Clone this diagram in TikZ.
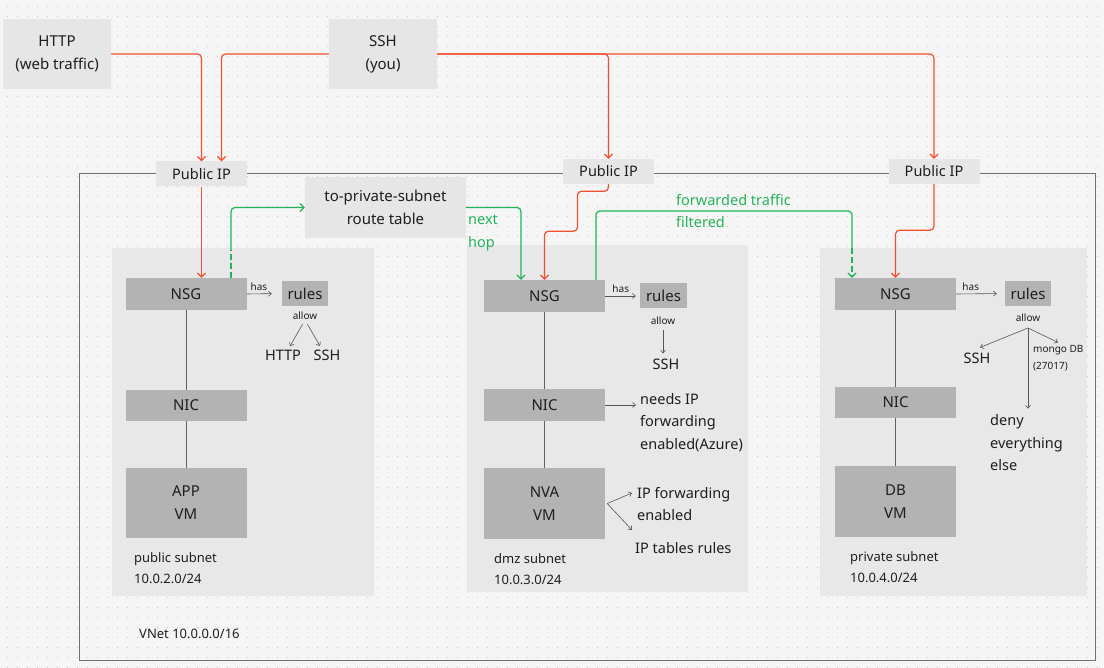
\documentclass[tikz,border=0pt]{standalone}
\usepackage{fontspec}
\setmainfont{Noto Sans}
\usetikzlibrary{positioning}
\usetikzlibrary{arrows.meta}
\definecolor{canvas}{HTML}{F5F5F5}
\definecolor{dotc}{HTML}{C6C6C6}
\definecolor{boxl}{HTML}{E6E6E6}
\definecolor{panel}{HTML}{E8E8E8}
\definecolor{boxd}{HTML}{B3B3B3}
\definecolor{ink}{HTML}{1E1E1E}
\definecolor{redl}{HTML}{F0502E}
\definecolor{greenl}{HTML}{22B35A}
\definecolor{vnetl}{HTML}{707070}
\tikzset{
    srcbox/.style = {rectangle, fill=boxl, minimum width=108pt, minimum height=70pt, align=center, text=ink, font=\fontsize{15}{23}\selectfont},
    ipbox/.style = {rectangle, fill=boxl, minimum width=91pt, minimum height=25pt, text=ink, font=\fontsize{14.5}{17}\selectfont},
    subnet/.style = {rectangle, fill=panel, anchor=north west, inner sep=0pt},
    part/.style = {rectangle, fill=boxd, minimum width=121pt, align=center, text=ink, font=\fontsize{15}{23}\selectfont},
    rulebox/.style = {rectangle, fill=boxd, minimum width=46pt, minimum height=25pt, text=ink, font=\fontsize{15}{17}\selectfont},
    note/.style = {anchor=west, align=left, inner sep=0pt, text=ink, font=\fontsize{14.5}{22.5}\selectfont},
    tiny/.style = {inner sep=0pt, text=ink, font=\fontsize{10}{17}\selectfont},
    netlabel/.style = {anchor=west, align=left, inner sep=0pt, text=ink, font=\fontsize{13}{21}\selectfont},
    edger/.style = {-{Straight Barb[length=4pt,width=8pt]}, line width=1.2pt, redl, rounded corners=4pt},
    edgeg/.style = {line width=1.2pt, greenl, rounded corners=4pt},
    tipg/.style = {-{Straight Barb[length=4pt,width=8pt]}},
    edgegd/.style = {dash pattern=on 6pt off 3pt}, % dashed end
    edgen/.style = {-{Straight Barb[length=3pt,width=5pt]}, line width=0.6pt, ink!75},
    wire/.style = {line width=0.8pt, ink!70}
}
\begin{document}
\begin{tikzpicture}[x=1pt, y=-1pt]
\useasboundingbox (0,0) rectangle (1104,668);
\fill[canvas] (0,0) rectangle (1104,668);
\foreach \row in {7,17,...,667}
  \draw[dotc, line width=1pt, dash pattern=on 1pt off 9pt] (6.5,\row) -- (1104,\row);

% vnet and subnets
\draw[vnetl, line width=1pt] (79,174) rectangle (1095,660);
\node[subnet, minimum width=262pt, minimum height=348pt] at (112,248) (pubnet) {};
\node[subnet, minimum width=281pt, minimum height=347pt] at (467,245) (dmznet) {};
\node[subnet, minimum width=267pt, minimum height=348pt] at (820,248) (privnet) {};
\node[netlabel] at (139,634) (vnettxt) {VNet 10.0.0.0/16};

\node[srcbox] at (57,54) (http) {HTTP\\(web traffic)};
\node[srcbox] at (383,54) (ssh) {SSH\\(you)};
\node[ipbox] at (201.5,174) (ipa) {Public IP};
\node[ipbox] at (608.5,171.5) (ipb) {Public IP};
\node[ipbox] at (934,171.5) (ipc) {Public IP};
\node[srcbox, minimum width=161pt, minimum height=61pt] at (385.5,207.5) (route) {to-private-subnet\\route table};

% public subnet
\node[part, minimum height=32pt] at (186,294) (nsga) {NSG};
\node[part, minimum height=31pt] at (186,405.5) (nica) {NIC};
\node[part, minimum height=70pt] at (186,503) (vma) {APP\\VM};
\node[rulebox] at (305,293.5) (rulesa) {rules};
\node[tiny] at (305,316) (allowa) {allow};
\node[note, anchor=center] at (283,355) (httpa) {HTTP};
\node[note, anchor=center] at (327,355) (ssha) {SSH};
\node[netlabel] at (134,568.5) (pubtxt) {public subnet\\10.0.2.0/24};

% dmz subnet
\node[part, minimum height=32pt] at (544.5,296) (nsgb) {NSG};
\node[part, minimum height=32pt] at (544.5,405) (nicb) {NIC};
\node[part, minimum height=71pt] at (544.5,503.5) (vmb) {NVA\\VM};
\node[rulebox, minimum width=47pt] at (663.5,296) (rulesb) {rules};
\node[tiny] at (663,321) (allowb) {allow};
\node[note, anchor=center] at (666,364) (sshb) {SSH};
\node[note] at (640,422.5) (needsb) {needs IP\\forwarding\\enabled(Azure)};
\node[note] at (637,504) (fwdb) {IP forwarding\\enabled};
\node[note] at (635,548) (iptb) {IP tables rules};
\node[netlabel] at (494,569) (dmztxt) {dmz subnet\\10.0.3.0/24};

% private subnet
\node[part, minimum height=32pt] at (895.5,294) (nsgc) {NSG};
\node[part, minimum height=31pt] at (895.5,402.5) (nicc) {NIC};
\node[part, minimum height=71pt] at (895.5,501.5) (vmc) {DB\\VM};
\node[rulebox] at (1028,293.5) (rulesc) {rules};
\node[tiny] at (1028,318) (allowc) {allow};
\coordinate (splitc) at (1028,328);
\node[note, anchor=center] at (977,358) (sshc) {SSH};
\node[tiny, anchor=west, align=left] at (1033,358.5) (mongoc) {mongo DB\\(27017)};
\node[note] at (990,443) (denyc) {deny\\everything\\else};
\node[netlabel] at (850,567.5) (privtxt) {private subnet\\10.0.4.0/24};

\node[note, text=greenl] at (468,233) (nexthop) {next\\hop};
\node[note, text=greenl] at (676,211) (fwdtxt) {forwarded traffic\\filtered};

% traffic in
\draw[edger] (http.east) -| (ipa.north);
\draw[edger] (ssh.west) -| ([xshift=20pt]ipa.north);
\draw[edger] (ssh.east) -| (ipb.north);
\draw[edger] (ssh.east) -| (ipc.north);
\draw[edger] (ipa.south) -- (ipa.south |- nsga.north);
\draw[edger] (ipb.south) -- ++(0,7) -- ++(-31,0) -- ++(0,40) -| (nsgb.north);
\draw[edger] (ipc.south) -- ++(0,46) -| (nsgc.north);

% routing
\draw[edgeg, edgegd] ([xshift=45pt]nsga.north) -- ++(0,-28) coordinate (gbenda);
\draw[edgeg, tipg] (gbenda) |- (route.west);
\draw[edgeg, tipg] (route.east) -| ([xshift=-23.5pt]nsgb.north);
\draw[edgeg] ([xshift=51.5pt]nsgb.north) |- (852,211) -- (852,248) coordinate (gbendc);
\draw[edgeg, edgegd, tipg] (gbendc) -- ([xshift=-43.5pt]nsgc.north);

\draw[wire] (nsga) -- (nica);
\draw[wire] (nica) -- (vma);
\draw[wire] (nsgb) -- (nicb);
\draw[wire] (nicb) -- (vmb);
\draw[wire] (nsgc) -- (nicc);
\draw[wire] (nicc) -- (vmc);

\draw[edgen, shorten >=10pt] (nsga.east) -- node[tiny, above=3pt, pos=0.35] {has} (rulesa.west);
\draw[edgen, shorten <=5pt, shorten >=4pt] (allowa.south) -- ([xshift=5pt]httpa.north);
\draw[edgen, shorten <=5pt, shorten >=4pt] (allowa.south) -- ([xshift=-5pt]ssha.north);

\draw[edgen, shorten >=4pt] (nsgb.east) -- node[tiny, above=3pt, pos=0.45] {has} (rulesb.west);
\draw[edgen, shorten <=5pt, shorten >=5pt] (allowb.south) -- (allowb.south |- sshb.north);
\draw[edgen, shorten >=4pt] (nicb.east) -- (nicb.east -| needsb.west);
\draw[edgen] ([xshift=2pt]vmb.east) -- ([xshift=-5pt,yshift=11pt]fwdb.west);
\draw[edgen] ([xshift=2pt]vmb.east) -- ([xshift=-3pt,yshift=18pt]iptb.west);

\draw[edgen, shorten >=8pt] (nsgc.east) -- node[tiny, above=3pt, pos=0.3] {has} (rulesc.west);
\draw[edgen] (splitc) -- ([xshift=3pt,yshift=5pt]sshc.north);
\draw[edgen] (splitc) -- ([xshift=25pt,yshift=3pt]mongoc.north west);
\draw[edgen, shorten >=6pt] (splitc) -- (splitc |- denyc.north);
\end{tikzpicture}
\end{document}
